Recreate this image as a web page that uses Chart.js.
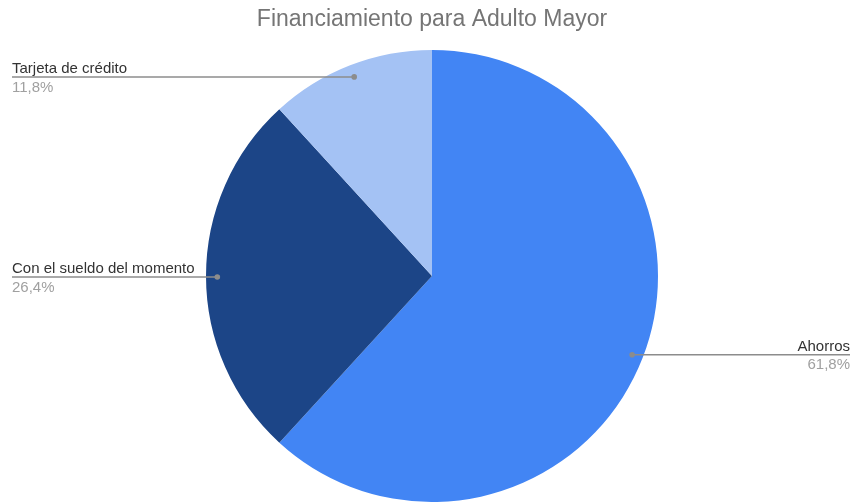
<!DOCTYPE html>
<html lang="es">
<head>
  <meta charset="UTF-8" />
  <title>Financiamiento para Adulto Mayor</title>
  <script src="https://cdn.jsdelivr.net/npm/chart.js"></script>
  <style>
    html, body { margin: 0; padding: 0; background: #fff; }
    .chart-container { width: 852px; height: 502px; position: relative; }
  </style>
</head>
<body>
  <div class="chart-container">
    <canvas id="pieChart"></canvas>
  </div>

  <script>
    const chartTitle = "Financiamiento para Adulto Mayor";
    const categories = ["Ahorros", "Con el sueldo del momento", "Tarjeta de crédito"];
    const percentages = [61.8, 26.4, 11.8];
    const sliceColors = ["#4285f4", "#1c4587", "#a4c2f4"];

    const FONT = "'Liberation Sans', Arial, sans-serif";

    // leader lines + labels like the Google Sheets pie
    const sideLabels = {
      id: "sideLabels",
      afterDraw(chart) {
        const ctx = chart.ctx;
        const meta = chart.getDatasetMeta(0);
        const W = chart.width;
        ctx.save();
        meta.data.forEach((arc, i) => {
          const mid = (arc.startAngle + arc.endAngle) / 2;
          const r = arc.outerRadius * 0.95;
          const px = arc.x + Math.cos(mid) * r;
          const py = arc.y + Math.sin(mid) * r + 1;
          const left = px < arc.x;
          const edge = left ? 12 : W - 2;

          ctx.strokeStyle = "#8c8c8c";
          ctx.lineWidth = 1.5;
          ctx.beginPath();
          ctx.moveTo(edge, py);
          ctx.lineTo(px, py);
          ctx.stroke();
          ctx.fillStyle = "#8c8c8c";
          ctx.beginPath();
          ctx.arc(px, py, 2.8, 0, Math.PI * 2);
          ctx.fill();

          ctx.font = "15px " + FONT;
          ctx.textAlign = left ? "left" : "right";
          ctx.textBaseline = "alphabetic";
          ctx.fillStyle = "#333333";
          ctx.fillText(categories[i], edge, py - 4);
          ctx.textBaseline = "top";
          ctx.fillStyle = "#a0a0a0";
          ctx.fillText(percentages[i].toFixed(1).replace(".", ",") + "%", edge, py + 3);
        });
        ctx.fillStyle = "#757575";
        ctx.font = "23px " + FONT;
        ctx.textAlign = "center";
        ctx.textBaseline = "middle";
        ctx.fillText(chartTitle, 432, 20);
        ctx.restore();
      }
    };

    const ctx = document.getElementById("pieChart").getContext("2d");
    new Chart(ctx, {
      type: "pie",
      data: {
        labels: categories,
        datasets: [{
          data: percentages,
          backgroundColor: sliceColors,
          borderWidth: 0
        }]
      },
      options: {
        responsive: true,
        maintainAspectRatio: false,
        animation: false,
        layout: { padding: { top: 50, bottom: 0, left: 206, right: 194 } },
        plugins: {
          legend: { display: false },
          title: { display: false },
          tooltip: { enabled: false }
        }
      },
      plugins: [sideLabels]
    });
  </script>
</body>
</html>
